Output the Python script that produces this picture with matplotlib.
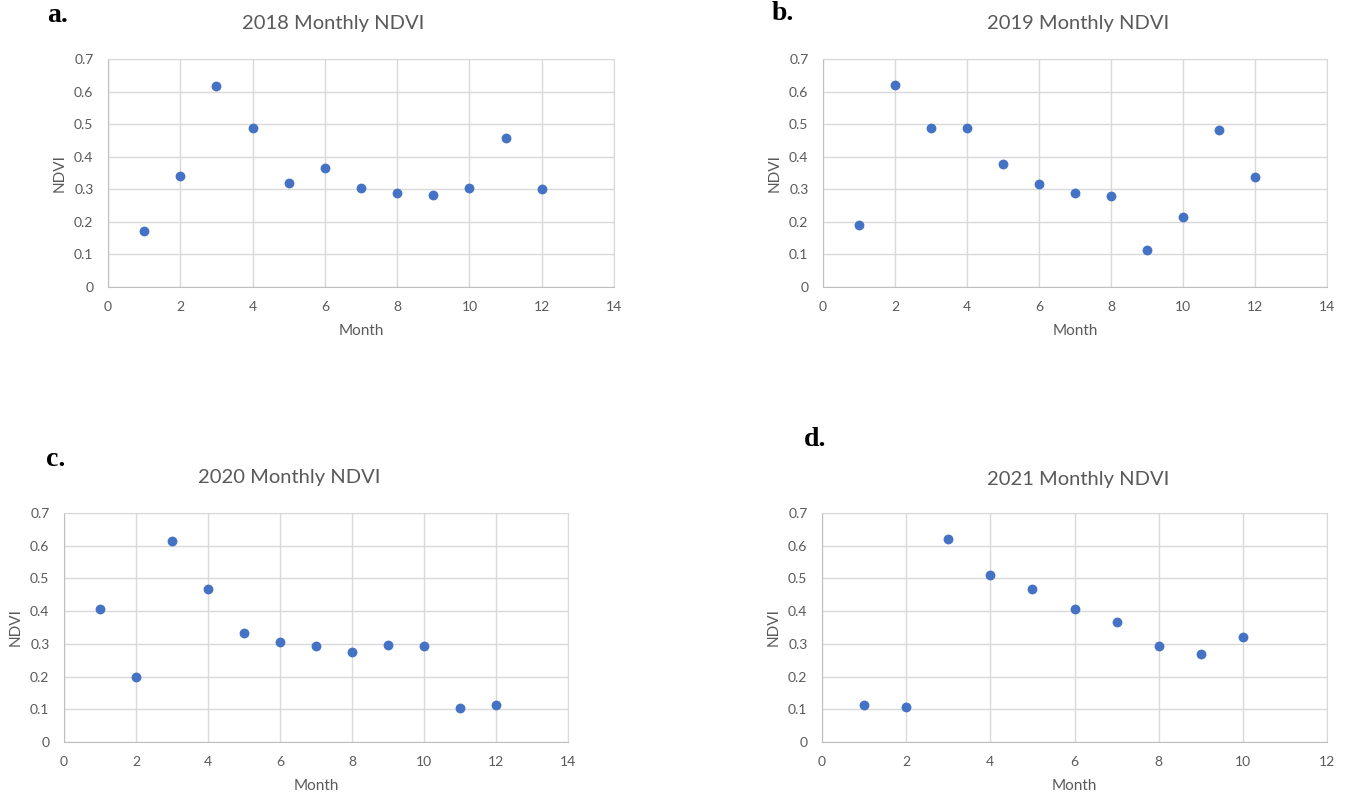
import matplotlib.pyplot as plt

W, H = 1351, 796

months_2018 = [1, 2, 3, 4, 5, 6, 7, 8, 9, 10, 11, 12]
ndvi_2018 = [0.171, 0.341, 0.617, 0.489, 0.319, 0.366, 0.305, 0.290, 0.283, 0.305, 0.458, 0.301]

months_2019 = [1, 2, 3, 4, 5, 6, 7, 8, 9, 10, 11, 12]
ndvi_2019 = [0.189, 0.621, 0.489, 0.489, 0.377, 0.316, 0.290, 0.279, 0.113, 0.214, 0.483, 0.337]

months_2020 = [1, 2, 3, 4, 5, 6, 7, 8, 9, 10, 11, 12]
ndvi_2020 = [0.407, 0.200, 0.613, 0.467, 0.333, 0.305, 0.293, 0.275, 0.297, 0.293, 0.103, 0.113]

months_2021 = [1, 2, 3, 4, 5, 6, 7, 8, 9, 10]
ndvi_2021 = [0.112, 0.108, 0.621, 0.512, 0.468, 0.406, 0.367, 0.294, 0.268, 0.322]

BLUE = '#4472C4'
GREY_TXT = '#595959'
GRID = '#D9D9D9'

plt.rcParams['font.family'] = ['Lato', 'DejaVu Sans']

fig = plt.figure(figsize=(W / 100, H / 100), dpi=100)


def make_panel(box, months, ndvi, xmax, title, title_pos, letter, letter_pos):
    left, top, right, bottom = box
    ax = fig.add_axes([left / W, 1 - bottom / H, (right - left) / W, (bottom - top) / H])
    ax.scatter(months, ndvi, s=50, color=BLUE, zorder=3, linewidths=0)
    ax.set_xlim(0, xmax)
    ax.set_ylim(0, 0.7)
    ax.set_xticks(range(0, xmax + 1, 2))
    ax.set_yticks([0, 0.1, 0.2, 0.3, 0.4, 0.5, 0.6, 0.7])
    ax.set_yticklabels(['0', '0.1', '0.2', '0.3', '0.4', '0.5', '0.6', '0.7'])
    ax.grid(True, color=GRID, linewidth=1)
    ax.set_axisbelow(True)
    for side in ['top', 'right']:
        ax.spines[side].set_color(GRID)
    for side in ['left', 'bottom']:
        ax.spines[side].set_color('#BFBFBF')
    ax.tick_params(length=0, labelsize=10, labelcolor=GREY_TXT)
    ax.tick_params(axis='x', pad=10)
    ax.tick_params(axis='y', pad=10.5)
    ax.set_xlabel('Month', fontsize=11, color=GREY_TXT)
    ax.set_ylabel('NDVI', fontsize=11, color=GREY_TXT)
    ax.xaxis.set_label_coords(0.5, -37 / (bottom - top))
    ax.yaxis.set_label_coords(-41 / (right - left), 0.5)
    fig.text(title_pos[0] / W, 1 - title_pos[1] / H, title, fontsize=14.5,
             color=GREY_TXT, ha='center', va='center')
    fig.text(letter_pos[0] / W, 1 - letter_pos[1] / H, letter, fontsize=20,
             fontweight='bold', family='Liberation Serif', ha='center', va='center')
    return ax


make_panel((108, 59, 614, 287), months_2018, ndvi_2018, 14, '2018 Monthly NDVI', (333, 23), 'a.', (58, 16))
make_panel((823, 59, 1327, 287), months_2019, ndvi_2019, 14, '2019 Monthly NDVI', (1078, 23), 'b.', (783, 14))
make_panel((64, 513, 568, 742), months_2020, ndvi_2020, 14, '2020 Monthly NDVI', (289, 478), 'c.', (56, 459))
make_panel((822, 513, 1327, 742), months_2021, ndvi_2021, 12, '2021 Monthly NDVI', (1078, 479), 'd.', (815, 439))

fig.savefig('out.png', dpi=100)
